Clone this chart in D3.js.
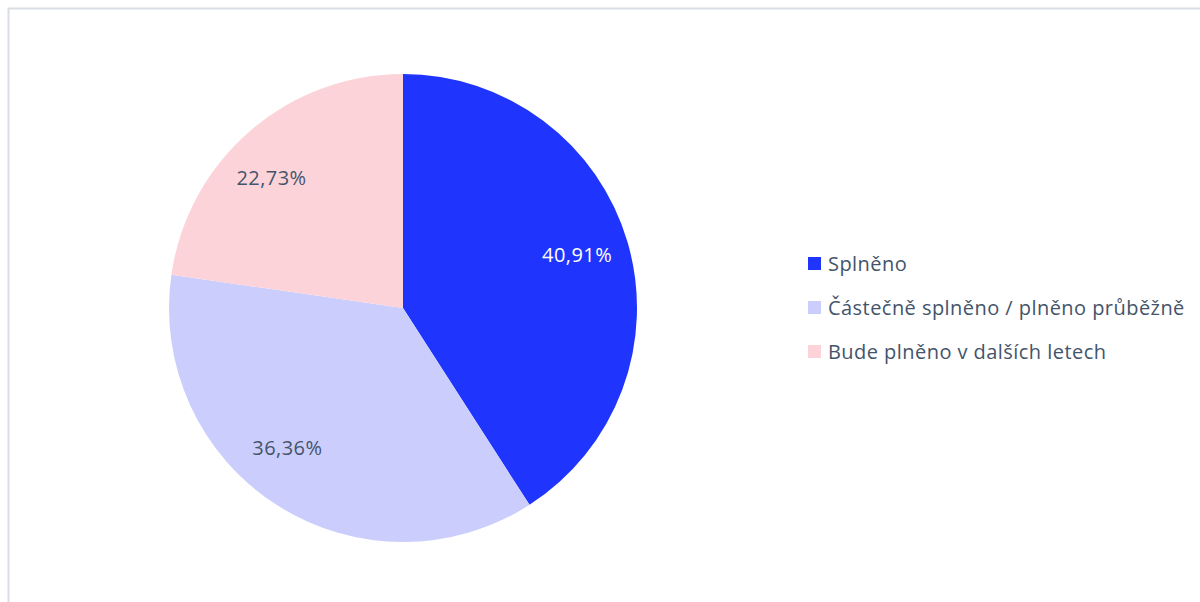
<!DOCTYPE html>
<html><head><meta charset="utf-8">
<script src="https://cdn.jsdelivr.net/npm/d3@7"></script>
<style>html,body{margin:0;padding:0;background:#fff;}svg{display:block;}</style>
</head><body>
<svg id="c" width="1200" height="602"></svg>
<script>
const categories = ["Splněno", "Částečně splněno / plněno průběžně", "Bude plněno v dalších letech"];
const values = [40.91, 36.36, 22.73];
const labels = ["40,91%", "36,36%", "22,73%"];

// styling / layout (kept separate from data)
const colors = ["#1f35fe", "#cbcefc", "#fdd3da"];
const labelColors = ["#ffffff", "#44546a", "#44546a"];
const labelNudge = [[-1, -2], [-17, -14], [-12, 8]];

const svg = d3.select("#c");
const font = "'Open Sans', sans-serif";

// frame
svg.append("path").attr("d", "M8.5,602 V8.5 H1200").attr("fill","none").attr("stroke","#d9dee5").attr("stroke-width",2);

const cx = 403, cy = 308, r = 234;
const pie = d3.pie().sort(null).value(d => d)(values);
const arc = d3.arc().innerRadius(0).outerRadius(r);
const labelArc = d3.arc().innerRadius(r*0.78).outerRadius(r*0.78);
const g = svg.append("g").attr("transform", `translate(${cx},${cy})`);
g.selectAll("path").data(pie).join("path").attr("d", arc).attr("fill", (d,i)=>colors[i]);
g.selectAll("text").data(pie).join("text")
  .attr("transform", (d,i) => { const c = labelArc.centroid(d); return `translate(${c[0]+labelNudge[i][0]},${c[1]+labelNudge[i][1]})`; })
  .attr("text-anchor","middle").attr("dy","0.35em")
  .attr("font-family", font).attr("font-size", 20).attr("letter-spacing", 0.45)
  .attr("fill", (d,i)=>labelColors[i]).text((d,i)=>labels[i]);

const leg = svg.append("g").attr("transform","translate(808,257)");
const items = leg.selectAll("g").data(categories).join("g").attr("transform",(d,i)=>`translate(0,${i*44})`);
items.append("rect").attr("width",13).attr("height",13).attr("fill",(d,i)=>colors[i]);
items.append("text").attr("x",20).attr("y",14).attr("font-family",font).attr("font-size",20).attr("letter-spacing",0.45).attr("fill","#44546a").text(d=>d);
</script>
</body></html>
